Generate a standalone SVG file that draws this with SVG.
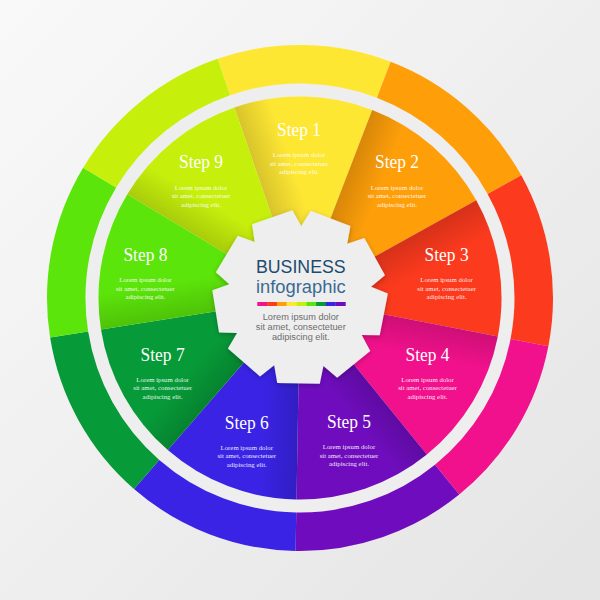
<svg xmlns="http://www.w3.org/2000/svg" xmlns:xlink="http://www.w3.org/1999/xlink" width="600" height="600" viewBox="0 0 600 600">
<style>
.lbl{font-family:"Liberation Serif","Times New Roman",serif;font-size:19px;fill:#fff;text-anchor:middle}
.body{font-family:"Liberation Serif","Times New Roman",serif;font-size:6.8px;fill:#fff;fill-opacity:.92;text-anchor:middle}
.title{font-family:"Liberation Sans",Arial,sans-serif;text-anchor:middle}
.desc{font-family:"Liberation Sans",Arial,sans-serif;font-size:9.2px;fill:#6d6d6d;text-anchor:middle}
</style>
<defs>
<linearGradient id="bg" x1="0" y1="0" x2="600" y2="600" gradientUnits="userSpaceOnUse">
<stop offset="0" stop-color="#f9f9f9"/><stop offset="1" stop-color="#e4e4e4"/>
</linearGradient>
<linearGradient id="shade" x1="300" y1="298" x2="333.8" y2="285.7" gradientUnits="userSpaceOnUse">
<stop offset="0" stop-color="#000" stop-opacity=".15"/><stop offset="1" stop-color="#000" stop-opacity="0"/>
</linearGradient>
<path id="sector" d="M300,298 L231.08,108.65 A201.5,201.5 0 0 1 368.92,108.65 Z"/>
<path id="outer" d="M213.47,60.26 A253,253 0 0 1 386.53,60.26 L373.36,96.43 A214.5,214.5 0 0 0 226.64,96.43 Z"/>
<filter id="ds" x="-20%" y="-20%" width="140%" height="140%">
<feDropShadow dx="0" dy="1.5" stdDeviation="2.5" flood-color="#000" flood-opacity=".25"/>
</filter>
</defs>
<rect width="600" height="600" fill="url(#bg)"/>
<circle cx="300" cy="298" r="208" fill="none" stroke="#eeeeee" stroke-width="13"/>

<g id="step1">
<g transform="rotate(1 300 298)"><use href="#outer" fill="#FEE733"/><use href="#sector" fill="#FEE733"/><use href="#sector" fill="url(#shade)"/></g>
<text class="lbl" x="299" y="136" textLength="44" lengthAdjust="spacingAndGlyphs">Step 1</text>
<text class="body" y="157.3"><tspan x="299">Lorem ipsum dolor</tspan><tspan x="299" dy="8.4">sit amet, consectetuer</tspan><tspan x="299" dy="8.4">adipiscing elit.</tspan></text>
</g>
<g id="step2">
<g transform="rotate(41 300 298)"><use href="#outer" fill="#FE9F0A"/><use href="#sector" fill="#FE9F0A"/><use href="#sector" fill="url(#shade)"/></g>
<text class="lbl" x="397" y="168.4" textLength="44" lengthAdjust="spacingAndGlyphs">Step 2</text>
<text class="body" y="189.7"><tspan x="397">Lorem ipsum dolor</tspan><tspan x="397" dy="8.4">sit amet, consectetuer</tspan><tspan x="397" dy="8.4">adipiscing elit.</tspan></text>
</g>
<g id="step3">
<g transform="rotate(81 300 298)"><use href="#outer" fill="#FB3A1E"/><use href="#sector" fill="#FB3A1E"/><use href="#sector" fill="url(#shade)"/></g>
<text class="lbl" x="446.6" y="261" textLength="44" lengthAdjust="spacingAndGlyphs">Step 3</text>
<text class="body" y="282.3"><tspan x="446.6">Lorem ipsum dolor</tspan><tspan x="446.6" dy="8.4">sit amet, consectetuer</tspan><tspan x="446.6" dy="8.4">adipiscing elit.</tspan></text>
</g>
<g id="step4">
<g transform="rotate(121 300 298)"><use href="#outer" fill="#F2118C"/><use href="#sector" fill="#F2118C"/><use href="#sector" fill="url(#shade)"/></g>
<text class="lbl" x="427.5" y="360.5" textLength="44" lengthAdjust="spacingAndGlyphs">Step 4</text>
<text class="body" y="381.8"><tspan x="427.5">Lorem ipsum dolor</tspan><tspan x="427.5" dy="8.4">sit amet, consectetuer</tspan><tspan x="427.5" dy="8.4">adipiscing elit.</tspan></text>
</g>
<g id="step5">
<g transform="rotate(161 300 298)"><use href="#outer" fill="#6F0DBE"/><use href="#sector" fill="#6F0DBE"/><use href="#sector" fill="url(#shade)"/></g>
<text class="lbl" x="349" y="428" textLength="44" lengthAdjust="spacingAndGlyphs">Step 5</text>
<text class="body" y="449.3"><tspan x="349">Lorem ipsum dolor</tspan><tspan x="349" dy="8.4">sit amet, consectetuer</tspan><tspan x="349" dy="8.4">adipiscing elit.</tspan></text>
</g>
<g id="step6">
<g transform="rotate(201 300 298)"><use href="#outer" fill="#3A23E5"/><use href="#sector" fill="#3A23E5"/><use href="#sector" fill="url(#shade)"/></g>
<text class="lbl" x="246.8" y="428.6" textLength="44" lengthAdjust="spacingAndGlyphs">Step 6</text>
<text class="body" y="449.9"><tspan x="246.8">Lorem ipsum dolor</tspan><tspan x="246.8" dy="8.4">sit amet, consectetuer</tspan><tspan x="246.8" dy="8.4">adipiscing elit.</tspan></text>
</g>
<g id="step7">
<g transform="rotate(241 300 298)"><use href="#outer" fill="#079A38"/><use href="#sector" fill="#079A38"/><use href="#sector" fill="url(#shade)"/></g>
<text class="lbl" x="162.6" y="360.5" textLength="44" lengthAdjust="spacingAndGlyphs">Step 7</text>
<text class="body" y="381.8"><tspan x="162.6">Lorem ipsum dolor</tspan><tspan x="162.6" dy="8.4">sit amet, consectetuer</tspan><tspan x="162.6" dy="8.4">adipiscing elit.</tspan></text>
</g>
<g id="step8">
<g transform="rotate(281 300 298)"><use href="#outer" fill="#5CE50A"/><use href="#sector" fill="#5CE50A"/><use href="#sector" fill="url(#shade)"/></g>
<text class="lbl" x="145.4" y="261" textLength="44" lengthAdjust="spacingAndGlyphs">Step 8</text>
<text class="body" y="282.3"><tspan x="145.4">Lorem ipsum dolor</tspan><tspan x="145.4" dy="8.4">sit amet, consectetuer</tspan><tspan x="145.4" dy="8.4">adipiscing elit.</tspan></text>
</g>
<g id="step9">
<g transform="rotate(321 300 298)"><use href="#outer" fill="#C6F00C"/><use href="#sector" fill="#C6F00C"/><use href="#sector" fill="url(#shade)"/></g>
<text class="lbl" x="201" y="168.4" textLength="44" lengthAdjust="spacingAndGlyphs">Step 9</text>
<text class="body" y="189.7"><tspan x="201">Lorem ipsum dolor</tspan><tspan x="201" dy="8.4">sit amet, consectetuer</tspan><tspan x="201" dy="8.4">adipiscing elit.</tspan></text>
</g>

<g id="center">
<polygon filter="url(#ds)" fill="#eeeeee" points="319.80,383.75 277.22,383.00 274.20,365.22 260.05,376.41 227.91,348.47 237.03,332.91 219.00,332.38 212.33,290.33 229.32,284.26 215.85,272.27 237.77,235.77 254.69,242.05 252.07,224.20 292.33,210.33 301.26,226.01 310.72,210.66 350.47,225.91 347.24,243.66 364.36,237.98 385.00,275.22 371.11,286.74 387.88,293.39 379.75,335.19 361.72,335.08 370.28,350.96 337.19,377.75 323.44,366.08"/>
<text class="title" x="300.8" y="272.5" font-size="19" fill="#1d4a6e" textLength="89.7" lengthAdjust="spacingAndGlyphs">BUSINESS</text>
<text class="title" x="300.8" y="292.5" font-size="17.5" fill="#3a6a94" textLength="89.7" lengthAdjust="spacingAndGlyphs">infographic</text>
<g id="bar">
<rect x="257.3" y="302" width="9.9" height="4" fill="#F2118C"/>
<rect x="267.1" y="302" width="9.9" height="4" fill="#FB3A1E"/>
<rect x="276.9" y="302" width="9.9" height="4" fill="#FE9F0A"/>
<rect x="286.7" y="302" width="9.9" height="4" fill="#FEE733"/>
<rect x="296.5" y="302" width="9.9" height="4" fill="#C6F00C"/>
<rect x="306.3" y="302" width="9.9" height="4" fill="#5CE50A"/>
<rect x="316.1" y="302" width="9.9" height="4" fill="#079A38"/>
<rect x="325.9" y="302" width="9.9" height="4" fill="#3A23E5"/>
<rect x="335.7" y="302" width="10" height="4" fill="#6F0DBE"/>
</g>
<text class="desc" y="320"><tspan x="300.8">Lorem ipsum dolor</tspan><tspan x="300.8" dy="10.2">sit amet, consectetuer</tspan><tspan x="300.8" dy="10.2">adipiscing elit.</tspan></text>
</g>
</svg>
